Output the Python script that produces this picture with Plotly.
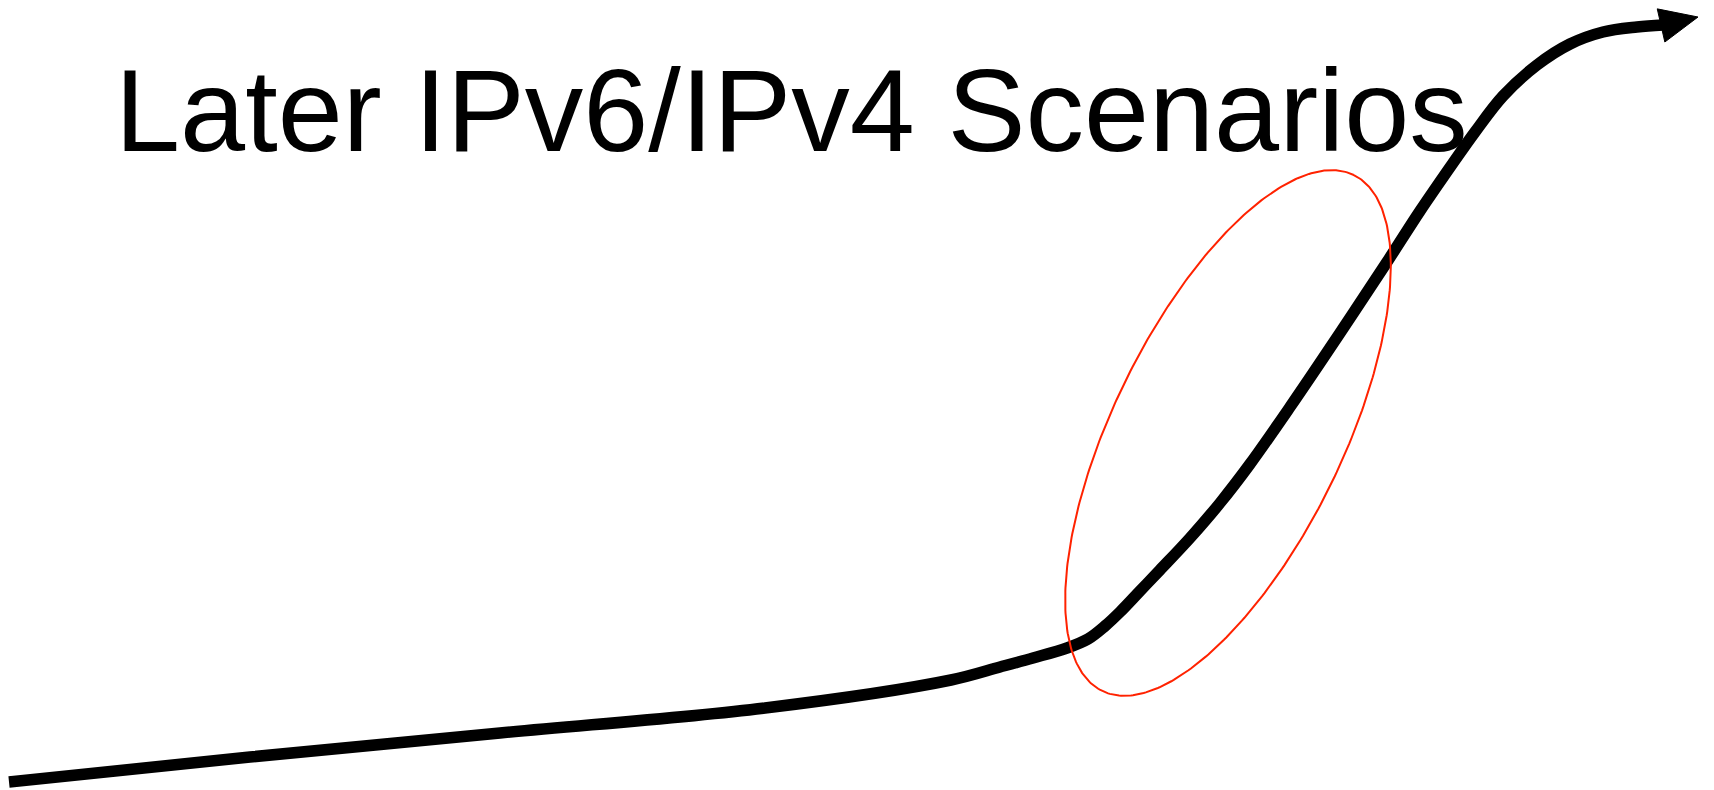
import numpy as np
import plotly.graph_objects as go

# Curve through the picture (pixel-space coordinates, y downward)
curve_x = [9, 250, 500, 765, 951, 1000, 1033, 1067, 1088, 1105, 1120, 1140, 1160, 1190,
           1220, 1250, 1290, 1340, 1387, 1420, 1453, 1475, 1503, 1537, 1570, 1603, 1637, 1663]
curve_y = [782, 757, 733, 708, 680, 667, 658, 648, 639, 626, 612, 591, 570, 538,
           503, 464, 407, 333, 262, 211, 163, 132, 96, 65, 44, 32, 27, 25]
arrow_tip = (1698, 17)

# Highlight ellipse: centre, semi-axes, tilt (degrees)
ellipse_center = (1228, 433)
ellipse_axes = (287, 115)
ellipse_angle = 64

title_text = "Later IPv6/IPv4 Scenarios"

W, H = 1714, 790
fig = go.Figure()

# main curve
fig.add_trace(go.Scatter(x=curve_x, y=curve_y, mode="lines",
                         line=dict(color="black", width=11.5, shape="spline", smoothing=1.0),
                         hoverinfo="skip", showlegend=False))

# arrowhead derived from the last curve point and the tip
bx, by = curve_x[-1], curve_y[-1]
tx, ty = arrow_tip
dx, dy = tx - bx, ty - by
L = np.hypot(dx, dy)
ux, uy = dx / L, dy / L
px, py = -uy, ux
hw = 17
head_x = [bx - 2 * ux + px * hw, tx, bx - 2 * ux - px * hw, bx - 2 * ux + px * hw]
head_y = [by - 2 * uy + py * hw, ty, by - 2 * uy - py * hw, by - 2 * uy + py * hw]
fig.add_trace(go.Scatter(x=head_x, y=head_y, mode="lines", fill="toself",
                         fillcolor="black", line=dict(color="black", width=1),
                         hoverinfo="skip", showlegend=False))

# ellipse
t = np.linspace(0, 2 * np.pi, 400)
cx, cy = ellipse_center
a, b = ellipse_axes
phi = np.deg2rad(ellipse_angle)
ex = cx + a * np.cos(t) * np.cos(phi) - b * np.sin(t) * np.sin(phi)
ey = cy - a * np.cos(t) * np.sin(phi) - b * np.sin(t) * np.cos(phi)
fig.add_trace(go.Scatter(x=ex, y=ey, mode="lines",
                         line=dict(color="#ff2200", width=2),
                         hoverinfo="skip", showlegend=False))

fig.add_annotation(x=113, y=110, xref="x", yref="y", text=title_text,
                   showarrow=False, xanchor="left", yanchor="middle",
                   font=dict(family="Liberation Sans, Arial", size=117, color="black"))

fig.update_xaxes(range=[0, W], visible=False, fixedrange=True)
fig.update_yaxes(range=[H, 0], visible=False, fixedrange=True)
fig.update_layout(width=W, height=H, margin=dict(l=0, r=0, t=0, b=0),
                  plot_bgcolor="white", paper_bgcolor="white")
fig.write_html("out.html", config={"displayModeBar": False},
               post_script="document.body.style.margin='0';document.body.style.overflow='hidden';")
